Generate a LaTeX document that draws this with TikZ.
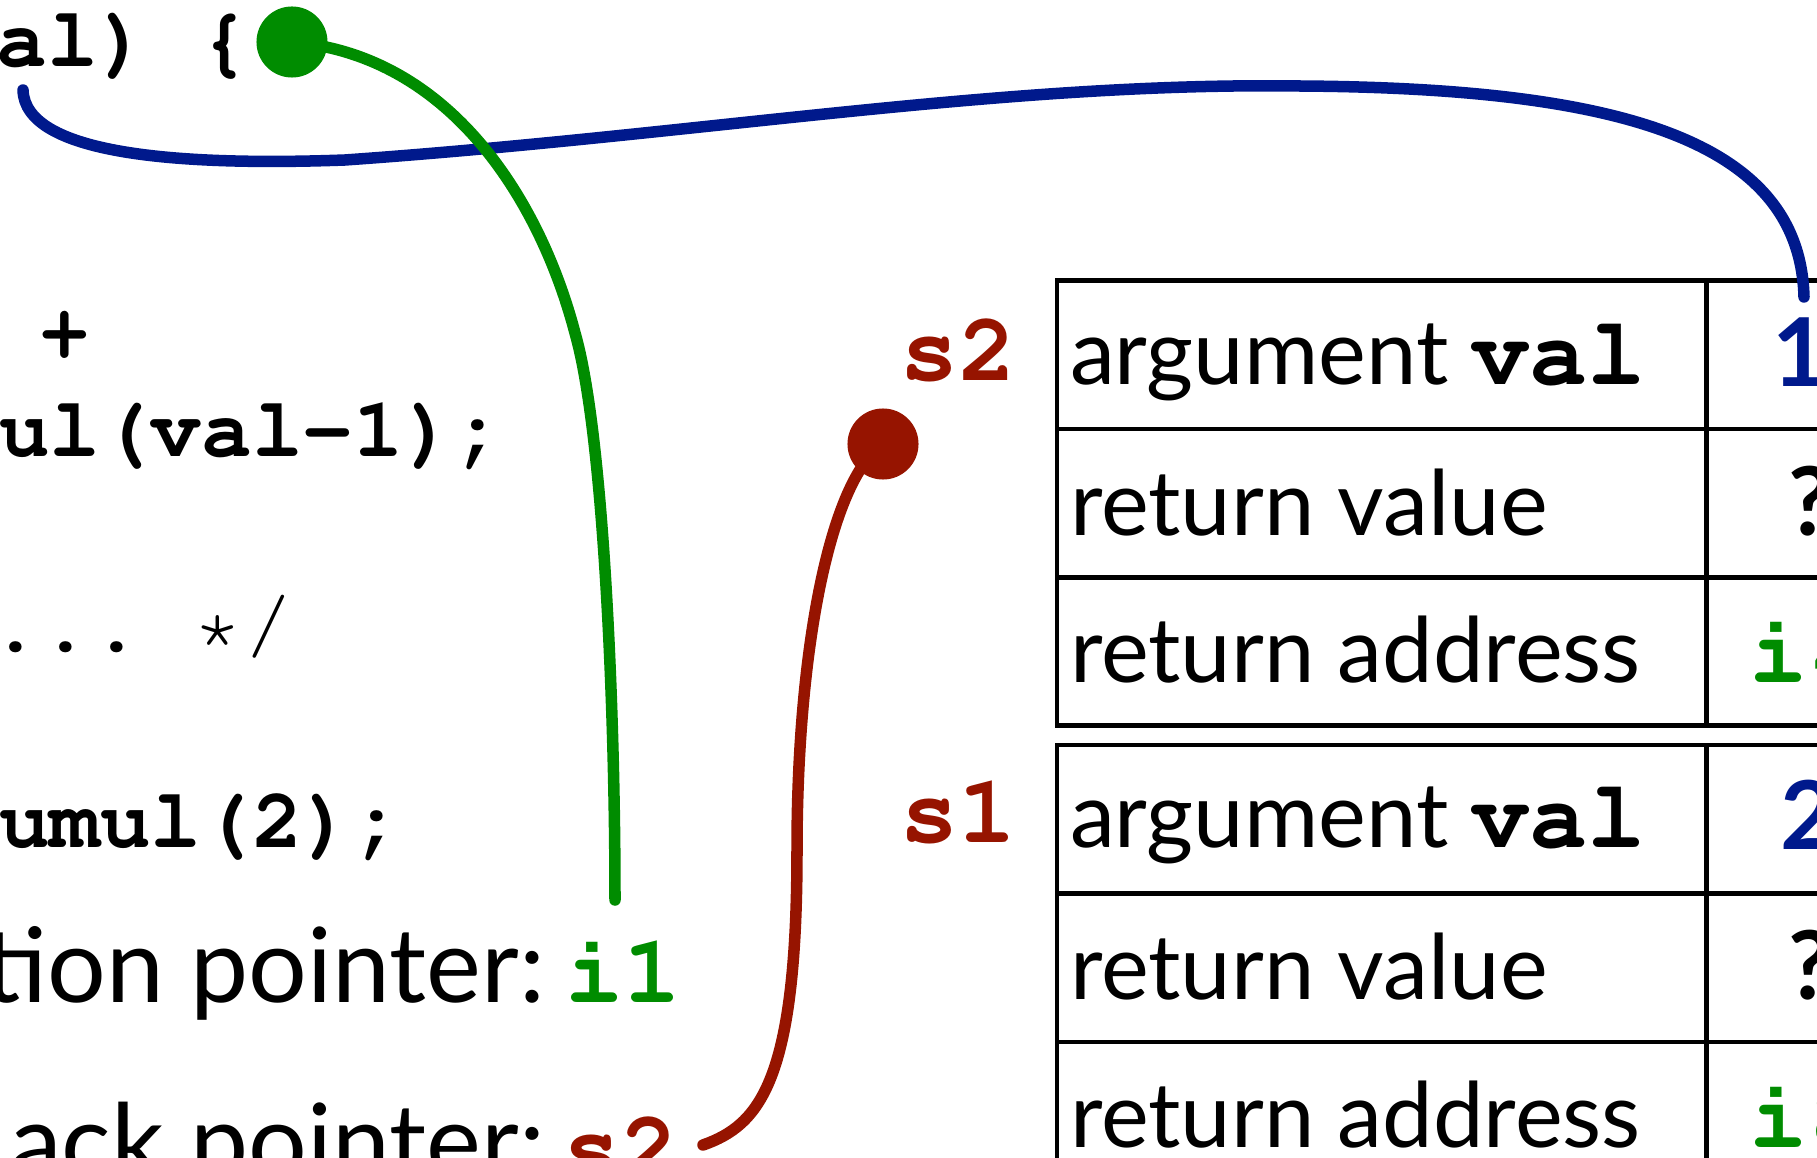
\documentclass[tikz,border=0pt]{standalone}
\usepackage[T1,TU]{fontenc}
\usepackage{fontspec}
\setmainfont{Lato}
\newcommand\courB{\fontencoding{T1}\fontfamily{pcr}\fontseries{b}\fontshape{n}\selectfont}
\newcommand\courM{\fontencoding{T1}\fontfamily{pcr}\fontseries{m}\fontshape{n}\selectfont}
\definecolor{cred}{RGB}{150,20,0}
\definecolor{cgreen}{RGB}{0,140,0}
\definecolor{cblue}{RGB}{0,25,140}
\begin{document}
\begin{tikzpicture}[x=0.01cm,y=-0.01cm,
  code/.style={anchor=base west,inner sep=0pt,outer sep=0pt,font={\courB\fontsize{24pt}{28pt}\selectfont\frenchspacing}},
  codelight/.style={code,font={\courM\fontsize{24pt}{28pt}\selectfont\frenchspacing}},
  lbl/.style={anchor=base west,inner sep=0pt,outer sep=0pt,font={\fontsize{25.7pt}{30pt}\selectfont}},
  big/.style={anchor=base east,inner sep=0pt,outer sep=0pt,font={\fontsize{29.5pt}{34pt}\selectfont}},
  ptr/.style={anchor=base west,inner sep=0pt,outer sep=0pt,font={\courB\fontsize{27.5pt}{30pt}\selectfont}},
  valtxt/.style={anchor=base,inner sep=0pt,outer sep=0pt,font={\bfseries\fontsize{27pt}{30pt}\selectfont}},
  valcode/.style={anchor=base,inner sep=0pt,outer sep=0pt,font={\courB\fontsize{27.5pt}{30pt}\selectfont}},
  cellL/.style={draw,line width=0.045cm,minimum width=6.49cm,minimum height=1.484cm,anchor=north west,inner sep=0pt,outer sep=0pt},
  cellV/.style={cellL,minimum width=2cm},
  wire/.style={line width=0.115cm,line cap=round},
  blob/.style={circle,inner sep=0pt,minimum size=0.71cm}
]
\useasboundingbox (0,0) rectangle (1817,1158);
\clip (0,0) rectangle (1817,1158);

% code lines
\node[code] (c1) at (-3,67) {al) \{};
\node[code] (c2) at (40,359) {+};
\node[code] (c3) at (-1,457) {ul(val-1);};
\node[codelight] (c4) at (-10,652) {... */};
\node[code] (c5) at (-1,847) {umul(2);};

% pointers
\node[big] (ipl) at (545,1002) {tion pointer:};
\node[ptr,text=cgreen] (ip) at (565,1002) {i1};
\node[big] (spl) at (545,1178) {ack pointer:};
\node[ptr,text=cred] (sp) at (562,1178) {s2};

% stack frames
\node[cellL] (l1) at (1057,280.4) {};
\node[cellV] (v1) at (1706,280.4) {};
\node[cellL] (l2) at (1057,428.8) {};
\node[cellV] (v2) at (1706,428.8) {};
\node[cellL] (l3) at (1057,577.2) {};
\node[cellV] (v3) at (1706,577.2) {};
\node[cellL] (l4) at (1057,745.1) {};
\node[cellV] (v4) at (1706,745.1) {};
\node[cellL] (l5) at (1057,893.5) {};
\node[cellV] (v5) at (1706,893.5) {};
\node[cellL] (l6) at (1057,1041.9) {};
\node[cellV] (v6) at (1706,1041.9) {};

\node[ptr,text=cred] (s2) at (900,381) {s2};
\node[ptr,text=cred] (s1) at (900,843) {s1};

\node[lbl] (t1) at (1070,385) {argument {\courB\fontsize{27.5pt}{30pt}\selectfont val}};
\node[lbl] (t2) at (1070,536) {return value};
\node[lbl] (t3) at (1070,683) {return address};
\node[lbl] (t4) at (1070,848) {argument {\courB\fontsize{27.5pt}{30pt}\selectfont val}};
\node[lbl] (t5) at (1070,1000) {return value};
\node[lbl] (t6) at (1070,1147) {return address};

\node[valtxt,text=cblue] (a1) at (1800,387) {1};
\node[valtxt] (a2) at (1810,536) {?};
\node[valcode,text=cgreen] (a3) at (1808,683) {i4};
\node[valtxt,text=cblue] (a4) at (1808,850) {2};
\node[valtxt] (a5) at (1810,1000) {?};
\node[valcode,text=cgreen] (a6) at (1808,1147) {i8};

% connector end points
\coordinate (bstart) at (23,90);
\coordinate (bend) at (1804,297);
\coordinate (gend) at (615,900);
\coordinate (rend) at (703,1145);
\node[blob] (gdot) at (292,42) {};
\node[blob] (rdot) at (883,444) {};

% connectors
\draw[wire,cblue] (bstart) .. controls (25,155) and (180,166) .. (345,160)
  .. controls (700,135) and (1000,82) .. (1299,86)
  .. controls (1620,88) and (1800,140) .. (bend);
\draw[wire,cgreen] (gdot.center) .. controls (450,55) and (540,200) .. (575,333)
  .. controls (603,430) and (615,700) .. (gend);
\draw[wire,cred] (rend) .. controls (760,1125) and (797,1080) .. (797,850)
  .. controls (797,650) and (830,480) .. (rdot.center);
\fill[cgreen] (gdot) circle[radius=0.355cm];
\fill[cred] (rdot) circle[radius=0.355cm];
\end{tikzpicture}
\end{document}
